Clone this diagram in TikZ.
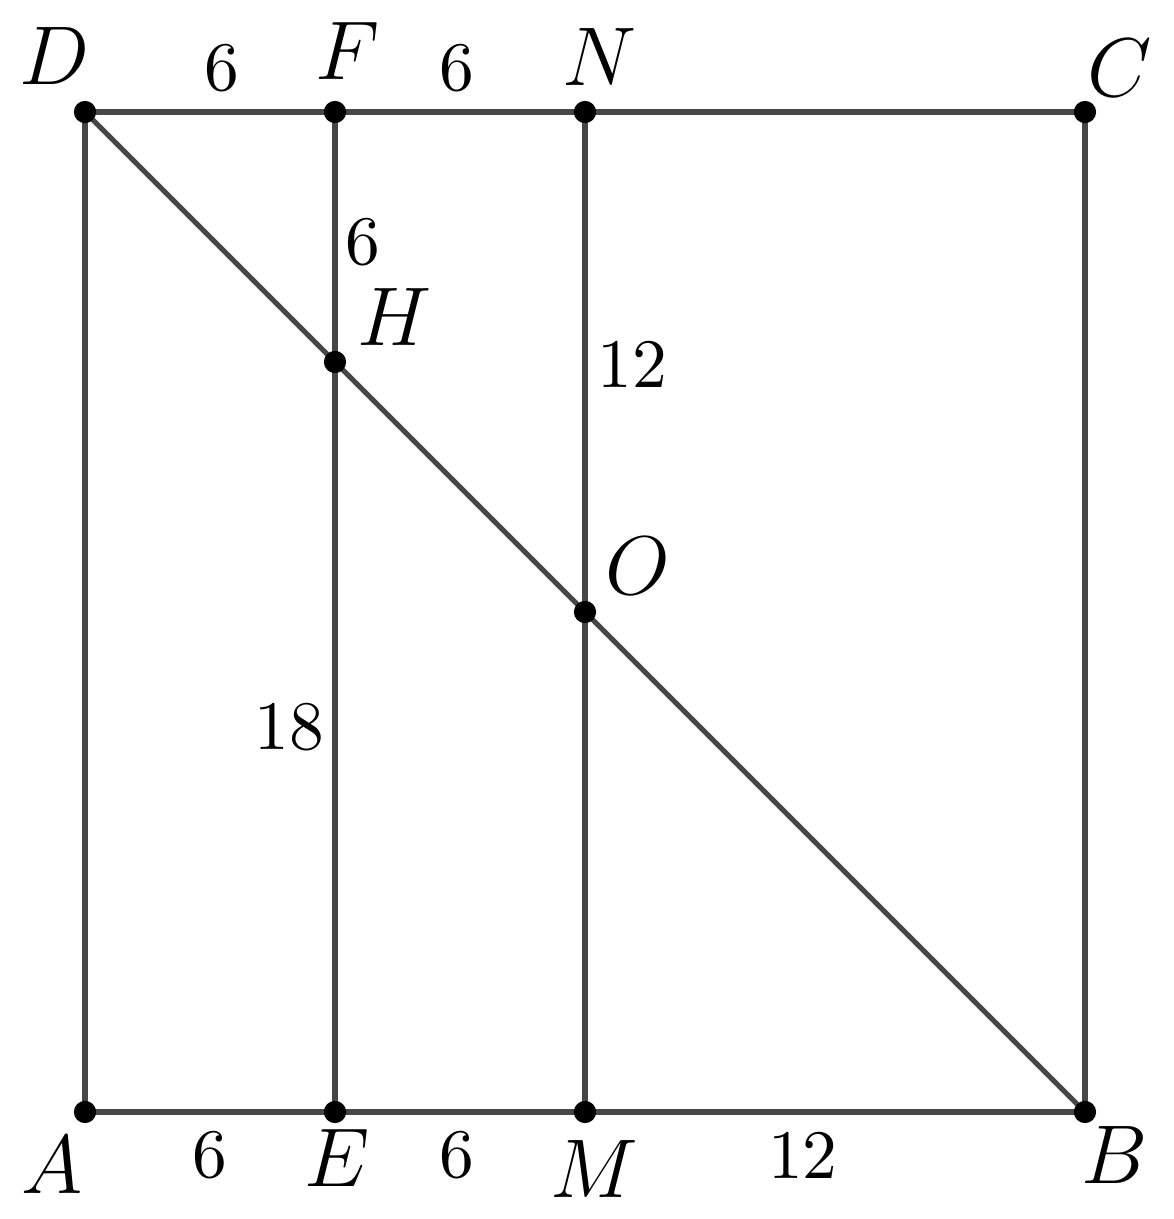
\documentclass[tikz,border=0pt]{standalone}
\usepackage{tikz}
\tikzset{
	seg/.style={draw=black!72, line width=0.75pt},
	pt/.style={circle, fill=black, inner sep=0pt, minimum size=3.2pt},
	vlabel/.style={font=\large},
	len/.style={font=\normalsize},
}

\begin{document}
\begin{tikzpicture}[x=0.2108cm, y=0.2108cm]
	\useasboundingbox (-2.04,-2.568) rectangle (26.136,26.688);

	% Points of the square and of the two cut lines
	\coordinate (A) at (0,0);
	\coordinate (E) at (6,0);
	\coordinate (M) at (12,0);
	\coordinate (B) at (24,0);
	\coordinate (D) at (0,24);
	\coordinate (F) at (6,24);
	\coordinate (N) at (12,24);
	\coordinate (C) at (24,24);
	\coordinate (H) at (6,18);
	\coordinate (O) at (12,12);

	% Sides, verticals and the diagonal
	\draw[seg] (A) -- (B) -- (C) -- (D) -- cycle;
	\draw[seg] (E) -- (F);
	\draw[seg] (M) -- (N);
	\draw[seg] (D) -- (B);

	% Dots
	\foreach \p in {A, E, M, B, D, F, N, C, H, O}
		\node[pt] (dot\p) at (\p) {};

	% Names of the points
	\node[vlabel] (lA) at (-0.79,-1.27) {$A$};
	\node[vlabel] (lE) at (6.05,-1.10) {$E$};
	\node[vlabel] (lM) at (12.22,-1.37) {$M$};
	\node[vlabel] (lB) at (24.70,-1.03) {$B$};
	\node[vlabel] (lD) at (-0.72,25.34) {$D$};
	\node[vlabel] (lF) at (6.31,25.46) {$F$};
	\node[vlabel] (lN) at (12.34,25.32) {$N$};
	\node[vlabel] (lC) at (24.84,25.06) {$C$};
	\node[vlabel] (lH) at (7.42,19.08) {$H$};
	\node[vlabel] (lO) at (13.27,13.10) {$O$};

	% Lengths
	\node[len] (dDF) at (3.29,25.06) {$6$};
	\node[len] (dFN) at (8.93,25.06) {$6$};
	\node[len] (dFH) at (6.67,20.88) {$6$};
	\node[len] (dNO) at (13.13,17.93) {$12$};
	\node[len] (dEH) at (4.90,9.24) {$18$};
	\node[len] (dAE) at (3.00,-1.03) {$6$};
	\node[len] (dEM) at (8.93,-1.03) {$6$};
	\node[len] (dMB) at (17.23,-1.06) {$12$};
\end{tikzpicture}
\end{document}
